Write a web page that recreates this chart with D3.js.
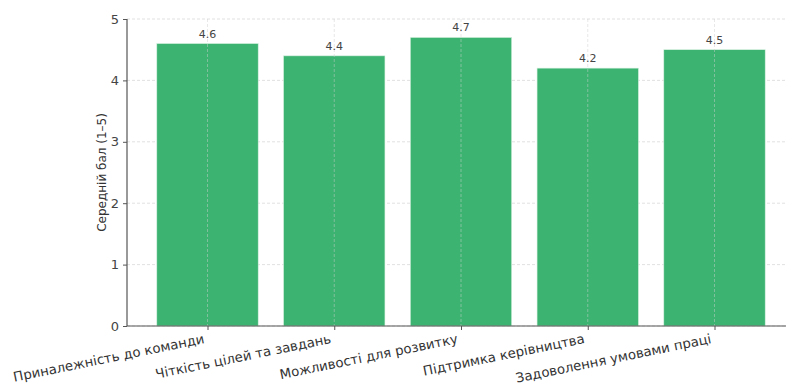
<!DOCTYPE html>
<html><head><meta charset="utf-8">
<script src="https://cdn.jsdelivr.net/npm/d3@7"></script>
<style>body{margin:0;background:#fff}svg{display:block}</style>
</head><body>
<svg id="c" width="786" height="383"></svg>
<script>
const categories = ["Приналежність до команди","Чіткість цілей та завдань","Можливості для розвитку","Підтримка керівництва","Задоволення умовами праці"];
const values = [4.6, 4.4, 4.7, 4.2, 4.5];
const yTicks = [0,1,2,3,4,5];
const yLabel = "Середній бал (1–5)";

const svg = d3.select("#c");
const pL = 127, pR = 786, pT = 19, pB = 326;
const font = "DejaVu Sans, sans-serif";

const x = d3.scaleLinear().domain([0, 4]).range([207.5, 714.5]);
const y = d3.scaleLinear().domain([0, 5]).range([pB, pT]);
const bw = (x(1) - x(0)) * 0.8;

// horizontal grid
svg.append("g").selectAll("line").data(yTicks).join("line")
  .attr("x1", pL).attr("x2", pR).attr("y1", d=>y(d)).attr("y2", d=>y(d))
  .attr("stroke", "#d9d9d9").attr("stroke-width", 0.8).attr("stroke-dasharray", "3,2");

// bars
svg.append("g").selectAll("rect").data(values).join("rect")
  .attr("x", (d,i)=>x(i)-bw/2).attr("width", bw)
  .attr("y", d=>y(d)).attr("height", d=>y(0)-y(d))
  .attr("fill", "#3cb371").attr("stroke", "#d8f0e0").attr("stroke-width", 0.6);

// vertical grid (over bars)
svg.append("g").selectAll("line").data(categories).join("line")
  .attr("x1", (d,i)=>x(i)).attr("x2", (d,i)=>x(i)).attr("y1", pT).attr("y2", pB)
  .attr("stroke", "#cfcfcf").attr("stroke-opacity", 0.6).attr("stroke-width", 0.8).attr("stroke-dasharray", "3,2");

// value labels
svg.append("g").selectAll("text").data(values).join("text")
  .attr("x", (d,i)=>x(i)).attr("y", d=>y(d)-6)
  .attr("text-anchor", "middle").attr("font-family", font).attr("font-size", 11)
  .attr("fill", "#444").text(d=>d.toFixed(1));

// y axis
const yAxis = d3.axisLeft(y).tickValues(yTicks).tickFormat(d3.format("d")).tickSize(4).tickPadding(4);
const ga = svg.append("g").attr("transform", `translate(${pL},0)`).call(yAxis);
ga.select(".domain").attr("stroke", "#555").attr("stroke-width", 1.2).attr("d", `M0,${pT}V${pB}`);
ga.selectAll(".tick line").attr("stroke", "#555");
ga.selectAll(".tick text").attr("font-family", font).attr("font-size", 13).attr("fill", "#444");

// x axis
const xAxis = d3.axisBottom(x).tickValues(d3.range(categories.length)).tickFormat(i=>categories[i]).tickSize(4).tickPadding(2);
const gx = svg.append("g").attr("transform", `translate(0,${pB})`).call(xAxis);
gx.select(".domain").attr("stroke", "#555").attr("stroke-width", 1.2).attr("d", `M${pL},0H${pR}`);
gx.selectAll(".tick line").attr("stroke", "#555");
gx.selectAll(".tick text").attr("font-family", font).attr("font-size", 13.3).attr("fill", "#333")
  .attr("text-anchor", "end").attr("y", 0).attr("dy", 0)
  .attr("transform", "translate(-3,17) rotate(-11.5)");

// y label
svg.append("text").attr("transform", `translate(106,${(pT+pB)/2}) rotate(-90)`)
  .attr("text-anchor", "middle").attr("font-family", font).attr("font-size", 12).attr("fill", "#333")
  .text(yLabel);
</script>
</body></html>
